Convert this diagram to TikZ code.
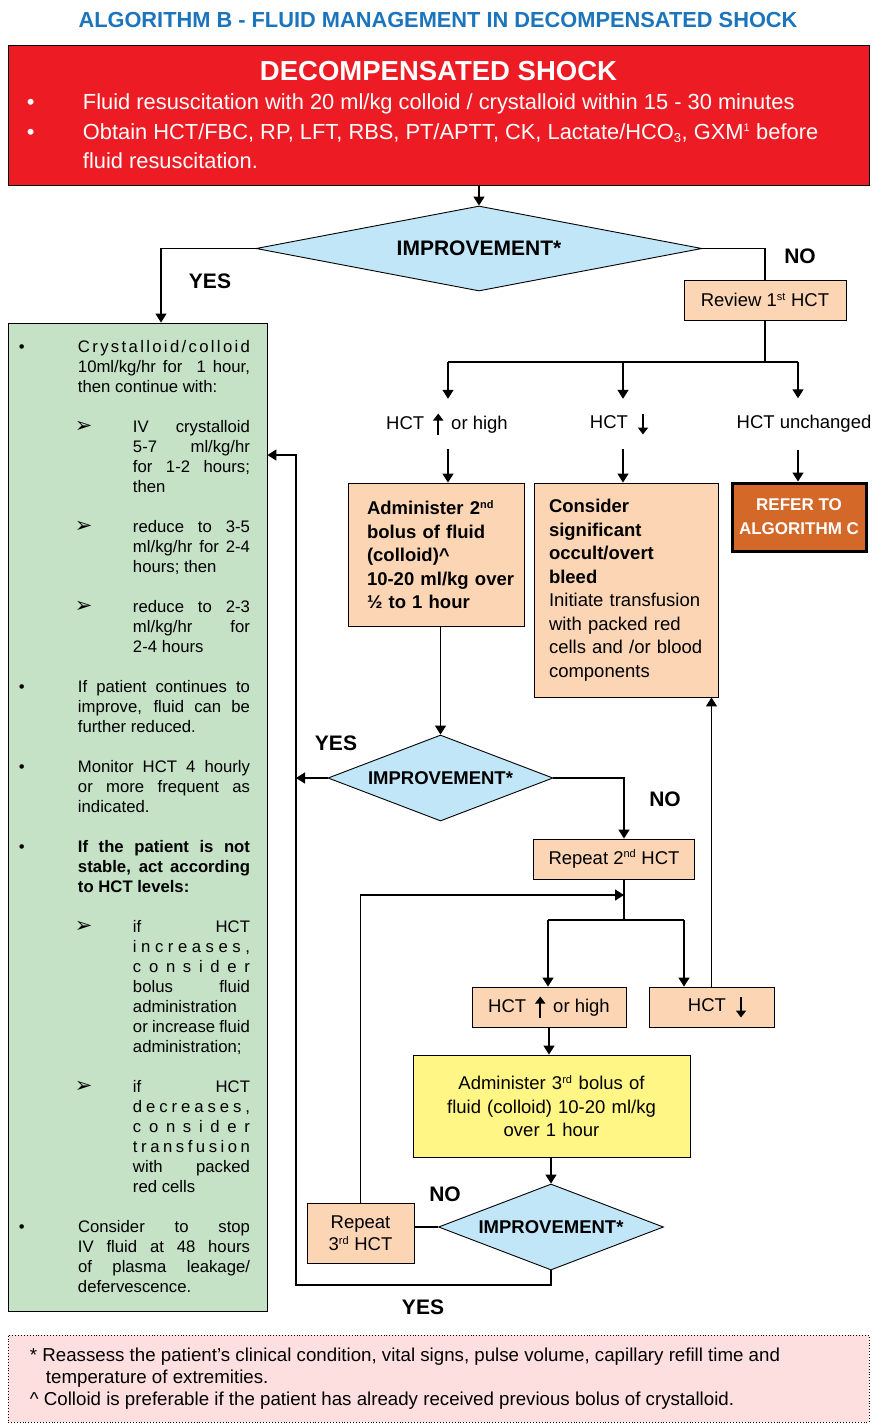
\documentclass[tikz,border=0pt]{standalone}
\usepackage{fontspec}
\setmainfont{Liberation Sans}
\newfontfamily\symfont{DejaVu Sans}
\usetikzlibrary{shapes.geometric,arrows.meta,calc}
\definecolor{titleblue}{RGB}{28,117,188}
\definecolor{shockred}{RGB}{237,28,36}
\definecolor{diafill}{RGB}{192,230,248}
\definecolor{peach}{RGB}{252,213,181}
\definecolor{mint}{RGB}{197,226,199}
\definecolor{lemon}{RGB}{255,246,133}
\definecolor{referorange}{RGB}{212,104,40}
\definecolor{notepink}{RGB}{252,223,222}
\newcommand{\flowfont}{\fontsize{18.5}{23.5}\selectfont}
\newcommand{\up}{\kern9pt\tikz[baseline=0pt, x=1pt, y=1pt]\draw[line width=2.2pt, -{Triangle[length=7pt,width=10pt]}] (0,-5) -- (0,16);\kern8pt}
\newcommand{\down}{\kern10pt\tikz[baseline=0pt, x=1pt, y=1pt]\draw[line width=2.2pt, -{Triangle[length=7pt,width=10pt]}] (0,15) -- (0,-6);}
\newcommand{\ord}[1]{\textsuperscript{\fontsize{11}{11}\selectfont #1}}
\makeatletter
\newcommand{\spreadw}[1]{\@tfor\sw@tok:=#1\do{\sw@tok\hfil}\unskip}
\makeatother
% lines of the green box
\newcommand{\gline}[1]{\hbox to 259pt{#1\hfil}}
\newcommand{\gbul}{\makebox[70pt][l]{\hspace{11pt}\textbullet}}
\newcommand{\garw}{\makebox[125pt][l]{\hspace{67pt}{\symfont\fontsize{21}{20}\selectfont ➢}}}
\newcommand{\grb}[1]{\gline{\gbul\makebox[172pt][s]{#1}}}
\newcommand{\grj}[1]{\gline{\hspace{70pt}\makebox[172pt][s]{#1}}}
\newcommand{\grl}[1]{\gline{\hspace{70pt}#1}}
\newcommand{\gsa}[1]{\gline{\garw\makebox[117pt][s]{#1}}}
\newcommand{\gsj}[1]{\gline{\hspace{125pt}\makebox[117pt][s]{#1}}}
\newcommand{\gsl}[1]{\gline{\hspace{125pt}#1}}
\newcommand{\gbl}{\gline{}}

\begin{document}
\begin{tikzpicture}[
                    >={Triangle[length=9pt,width=11pt]},
                x=1pt, y=-1pt, line width=1.4pt,
                box/.style={draw, line width=0.9pt, inner sep=0pt},
                peachbox/.style={box, fill=peach, font=\flowfont},
                diam/.style={diamond, draw, line width=0.9pt, fill=diafill, inner sep=0pt, aspect=2.6,
                             font=\fontsize{18.5}{22}\selectfont\bfseries,
                             minimum width=225pt, minimum height=86pt},
                yesno/.style={font=\fontsize{21}{24}\selectfont\bfseries},
                lbl/.style={minimum height=50pt, inner sep=0pt, font=\flowfont}]

                \useasboundingbox (0,0) rectangle (874,1428);

                \node[font=\fontsize{21.8}{24}\selectfont\bfseries, text=titleblue] (title) at (438,20)
                    {ALGORITHM B - FLUID MANAGEMENT IN DECOMPENSATED SHOCK};

                \node[box, fill=shockred, text=white, minimum width=861pt, minimum height=140pt] (shock) at (438.5,115)
                    {\parbox{861pt}{\centering{\fontsize{27.5}{30}\selectfont\bfseries DECOMPENSATED SHOCK}\par
                     \raggedright\fontsize{21.85}{29.5}\selectfont
                     \hspace*{19pt}\makebox[56pt][l]{\textbullet}Fluid resuscitation with 20 ml/kg colloid / crystalloid within 15 - 30 minutes\par
                     \hspace*{19pt}\makebox[56pt][l]{\textbullet}Obtain HCT/FBC, RP, LFT, RBS, PT/APTT, CK, Lactate/HCO\textsubscript{\fontsize{13}{13}\selectfont 3}, GXM\ord{1} before\par
                     \hspace*{75pt}fluid resuscitation.}};

                \node[diam, aspect=5.25, minimum width=446pt, minimum height=85pt, font=\fontsize{21}{24}\selectfont\bfseries] (dia1) at (479,248.5) {IMPROVEMENT*};
                \node[peachbox, minimum width=162pt, minimum height=40pt] (review) at (765,300) {Review 1\ord{st} HCT};

                % maintenance regime
                \node[box, fill=mint, minimum width=259pt, minimum height=988pt] (stable) at (137.5,817)
                    {\parbox{259pt}{\fontsize{16.7}{20}\selectfont
                     \grb{\spreadw{Crystalloid/colloid}}
                     \grj{10ml/kg/hr for \ 1 hour,}
                     \grl{then continue with:}
                     \gbl
                     \gsa{IV crystalloid}
                     \gsj{5-7 ml/kg/hr}
                     \gsj{for 1-2 hours;}
                     \gsl{then}
                     \gbl
                     \gsa{reduce to 3-5}
                     \gsj{ml/kg/hr for 2-4}
                     \gsl{hours; then}
                     \gbl
                     \gsa{reduce to 2-3}
                     \gsj{ml/kg/hr for}
                     \gsl{2-4 hours}
                     \gbl
                     \grb{If patient continues to}
                     \grj{improve, fluid can be}
                     \grl{further reduced.}
                     \gbl
                     \grb{Monitor HCT 4 hourly}
                     \grj{or more frequent as}
                     \grl{indicated.}
                     \gbl
                     \grb{\bfseries If the patient is not}
                     \grj{\bfseries stable, act according}
                     \grl{\bfseries to HCT levels:}
                     \gbl
                     \gsa{if HCT}
                     \gsj{\spreadw{increases,}}
                     \gsj{\spreadw{consider}}
                     \gsj{bolus fluid}
                     \gsl{administration}
                     \gsj{or increase fluid}
                     \gsl{administration;}
                     \gbl
                     \gsa{if HCT}
                     \gsj{\spreadw{decreases,}}
                     \gsj{\spreadw{consider}}
                     \gsj{\spreadw{transfusion}}
                     \gsj{with packed}
                     \gsl{red cells}
                     \gbl
                     \grb{Consider to stop}
                     \grj{IV fluid at 48 hours}
                     \grj{of plasma leakage/}
                     \grl{defervescence.}}};

                % first HCT review
                \node[lbl] (lblup) at (447,424) {HCT\up or high};
                \node[lbl] (lbldn) at (619,424) {HCT\down};
                \node[lbl] (lblsame) at (804,424) {HCT unchanged};
                \node[peachbox, font=\flowfont\bfseries, text width=176pt, align=left, minimum height=143pt] (admin2) at (436,554.5)
                    {\leftskip=19pt Administer 2\ord{nd}\\ bolus of fluid\\ (colloid)\textasciicircum\\ 10-20 ml/kg over\\ ½ to 1 hour\par\vspace{8pt}};
                \node[peachbox, text width=184pt, align=left, minimum height=214pt] (consider) at (626,590)
                    {\leftskip=15pt \bfseries Consider\\ significant\\ occult/overt\\ bleed\\ \mdseries Initiate transfusion\\ with packed red\\ cells and /or blood\\ components\par\vspace{4pt}};
                \node[box, line width=3pt, fill=referorange, text=white, align=center, minimum width=134pt, minimum height=68pt,
                      font=\fontsize{17}{24}\selectfont\bfseries] (refer) at (799,517) {REFER TO\\ ALGORITHM C};

                % second HCT review
                \node[diam] (dia2) at (440.5,778) {IMPROVEMENT*};
                \node[peachbox, minimum width=161pt, minimum height=40pt] (rep2) at (614,859) {Repeat 2\ord{nd} HCT};
                \node[peachbox, minimum width=154pt, minimum height=40pt] (hctup) at (549,1007) {HCT\up or high};
                \node[peachbox, minimum width=125pt, minimum height=40pt] (hctdn) at (711.5,1007) {\hspace*{14pt}HCT\down\kern3pt};
                \node[box, fill=lemon, font=\flowfont, text width=277pt, align=center, minimum height=102pt] (bolus3) at (551.5,1106)
                    {Administer 3\ord{rd} bolus of\\ fluid (colloid) 10-20 ml/kg\\ over 1 hour};
                \node[diam] (dia3) at (551,1227) {IMPROVEMENT*};
                \node[peachbox, align=center, minimum width=107pt, minimum height=60pt, font=\fontsize{18.5}{22}\selectfont] (rep3) at (360.5,1233)
                    {Repeat\\ 3\ord{rd} HCT};

                \node[yesno] (yes1) at (210,281) {YES};
                \node[yesno] (no1) at (800,256) {NO};
                \node[yesno] (yes2) at (336,743) {YES};
                \node[yesno] (no2) at (665,799) {NO};
                \node[yesno] (no3) at (445,1194) {NO};
                \node[yesno] (yes3) at (423,1307) {YES};

                \node[draw, dotted, line width=0.9pt, fill=notepink, minimum width=861pt, minimum height=87pt, inner sep=0pt] (note) at (438.5,1378.5)
                    {\parbox{861pt}{\fontsize{18.7}{22}\selectfont
                     \hspace*{22pt}* Reassess the patient’s clinical condition, vital signs, pulse volume, capillary refill time and\\
                     \hspace*{38pt}temperature of extremities.\\
                     \hspace*{22pt}\textasciicircum\ Colloid is preferable if the patient has already received previous bolus of crystalloid.}};

                \coordinate (yescol) at (161,0);
                \coordinate (c1) at (448,362);
                \coordinate (c2) at (623,362);
                \coordinate (c3) at (798,362);
                \coordinate (c4) at (624,0);
                \coordinate (rejoin) at (624,895);
                \coordinate (c5) at (548,920);
                \coordinate (c6) at (684,920);
                \coordinate (loopt) at (296,455);
                \coordinate (loopb) at (296,1285);

                \draw[->] (shock.south -| dia1.north) -- (dia1.north);
                \draw[->] (dia1.west) -| (yescol |- stable.north);
                \draw (dia1.east) -| (review.north);
                \draw (review.south) |- (c1) -- (c3);
                \foreach \col/\lab/\target in {c1/lblup/admin2, c2/lbldn/consider, c3/lblsame/refer} {
                    \draw[->] (\col) -- (\col |- \lab.north);
                    \draw[->] (\col |- \lab.south) -- (\col |- \target.north);
                }
                \draw[->] (dia2.north |- admin2.south) -- (dia2.north);
                \draw[->] (dia2.west) -- (dia2.west -| loopt);
                \draw[->] (dia2.east) -| (c4 |- rep2.north);
                \draw (c4 |- rep2.south) -- (c4 |- c5);
                \draw (c5) -- (c6);
                \draw[->] (c5) -- (c5 |- hctup.north);
                \draw[->] (c6) -- (c6 |- hctdn.north);
                \draw[->] (hctdn.north) -- (hctdn.north |- consider.south);
                \draw[->] (hctup.south) -- (hctup.south |- bolus3.north);
                \draw[->] (bolus3.south -| dia3.north) -- (dia3.north);
                \draw (dia3.west) -- (dia3.west -| rep3.east);
                \draw[->] (rep3.north) |- (rejoin);
                \draw[->] (dia3.south) |- (loopb) -- (loopt) -- (loopt -| stable.east);

            \end{tikzpicture}
\end{document}
